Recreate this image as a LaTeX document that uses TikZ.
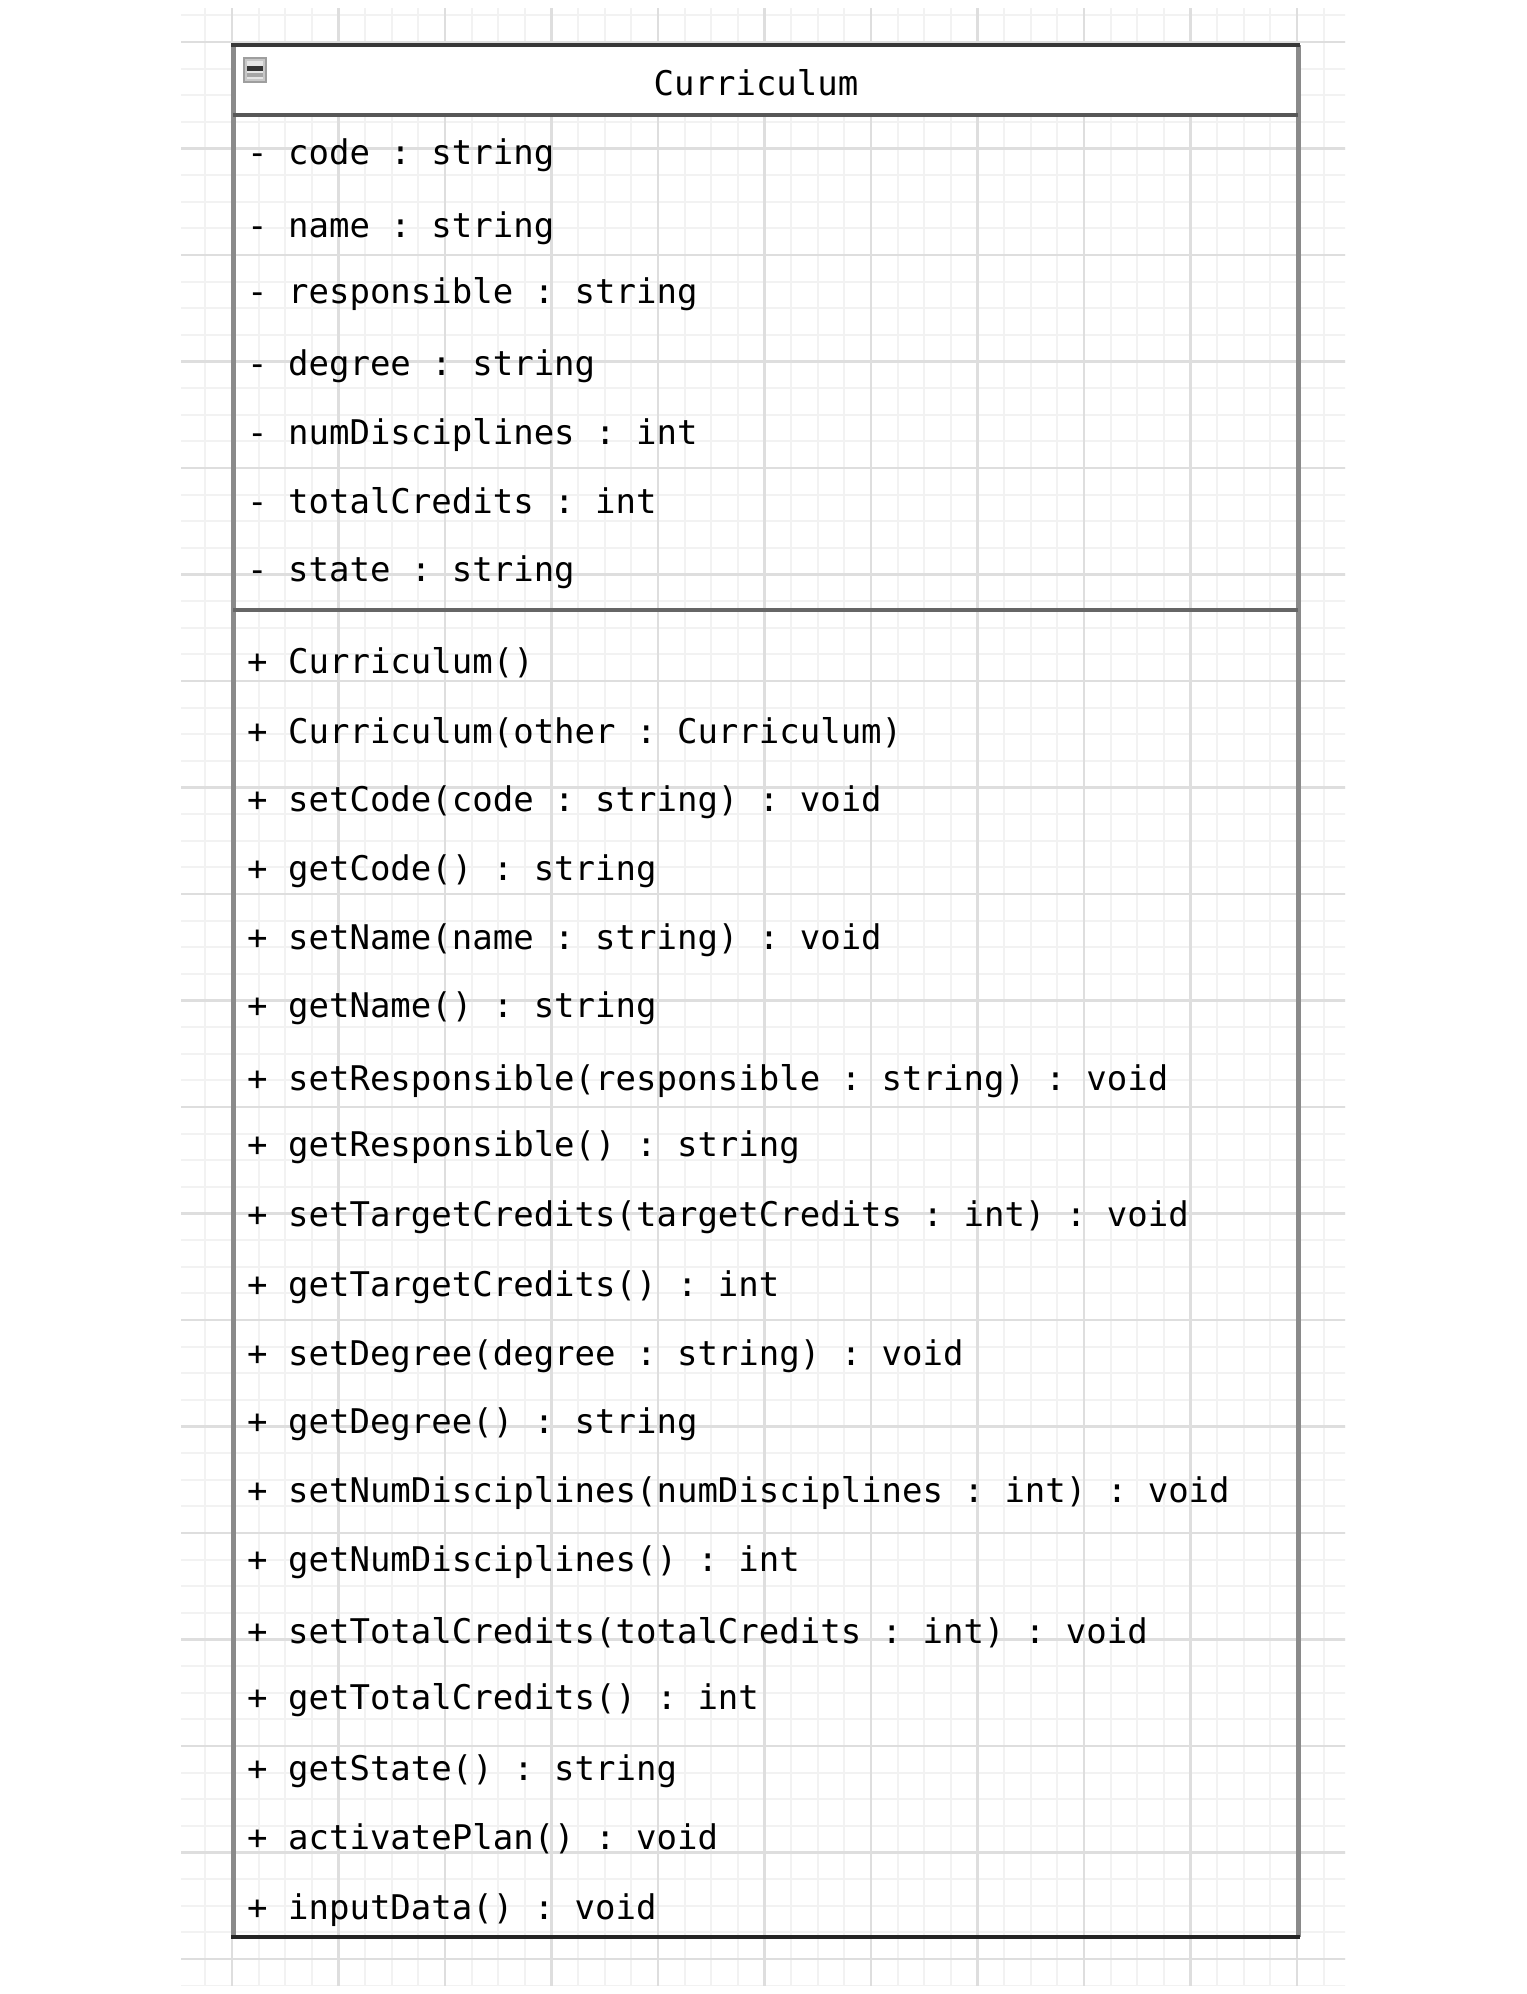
\documentclass[tikz,border=0pt]{standalone}
\usepackage{fontspec}
\setmonofont{DejaVu Sans Mono}
\begin{document}
\begin{tikzpicture}[x=1pt,y=-1pt,
  member/.style={anchor=base west, inner sep=0pt, text=black,
    font=\ttfamily\fontsize{34}{40}\selectfont},
  classtitle/.style={member, anchor=base},
  minorline/.style={draw=black!5, line width=2pt},
  majorline/.style={draw=black!13, line width=2.5pt},
  sideedge/.style={draw=black!46, line width=5pt},
  topedge/.style={draw=black!78, line width=3.5pt},
  separator/.style={draw=black!66, line width=4pt}]

\useasboundingbox (0,0) rectangle (1526,1994);
\fill[white] (0,0) rectangle (1526,1994);

% canvas grid: minor lines every 26.625, major every 106.5
\begin{scope}
  \clip (181,8) rectangle (1345,1985);
  \foreach \k in {-2,...,42} \draw[minorline] ({232+26.625*\k},0) -- ({232+26.625*\k},1994);
  \foreach \k in {-2,...,74} \draw[minorline] (0,{42+26.625*\k}) -- (1526,{42+26.625*\k});
  \foreach \k in {0,...,10} \draw[majorline] ({232+106.5*\k},0) -- ({232+106.5*\k},1994);
  \foreach \k in {0,...,18} \draw[majorline] (0,{42+106.5*\k}) -- (1526,{42+106.5*\k});
\end{scope}

% class box
\fill[white] (232,45) rectangle (1298,115);
\draw[sideedge] (233,45) -- (233,1937);
\draw[sideedge] (1298,45) -- (1298,1937);
\draw[topedge] (231,45) -- (1300,45);
\draw[topedge, draw=black!86] (231,1937) -- (1300,1937);
\draw[separator] (233,115) -- (1298,115);
\draw[separator, draw=black!60] (233,610) -- (1298,610);

% collapse toggle
\filldraw[fill=black!22, draw=black!38, line width=1.5pt] (244,58) rectangle (266,82);
\fill[black!10] (247,61) rectangle (263,79);
\fill[black!80] (247,66) rectangle (263,70.5);
\fill[black!35] (247,73) rectangle (263,77);

% class name
\node[classtitle] (title) at (756,95) {Curriculum};

% attributes
\foreach \yb/\txt [count=\i] in {
  164.6/{- code : string},
  237.1/{- name : string},
  303.2/{- responsible : string},
  375.7/{- degree : string},
  444.4/{- numDisciplines : int},
  513.1/{- totalCredits : int},
  581.7/{- state : string}}
  \node[member] (attr\i) at (247,\yb) {\txt};

% operations
\foreach \yb/\txt [count=\i] in {
  673.3/{+ Curriculum()},
  743.2/{+ Curriculum(other : Curriculum)},
  811.9/{+ setCode(code : string) : void},
  880.6/{+ getCode() : string},
  949.2/{+ setName(name : string) : void},
  1017.9/{+ getName() : string},
  1090.4/{+ setResponsible(responsible : string) : void},
  1156.5/{+ getResponsible() : string},
  1226.5/{+ setTargetCredits(targetCredits : int) : void},
  1296.4/{+ getTargetCredits() : int},
  1365.1/{+ setDegree(degree : string) : void},
  1433.8/{+ getDegree() : string},
  1502.4/{+ setNumDisciplines(numDisciplines : int) : void},
  1571.1/{+ getNumDisciplines() : int},
  1643.6/{+ setTotalCredits(totalCredits : int) : void},
  1709.7/{+ getTotalCredits() : int},
  1780.9/{+ getState() : string},
  1849.6/{+ activatePlan() : void},
  1919.6/{+ inputData() : void}}
  \node[member] (op\i) at (247,\yb) {\txt};
\end{tikzpicture}
\end{document}
